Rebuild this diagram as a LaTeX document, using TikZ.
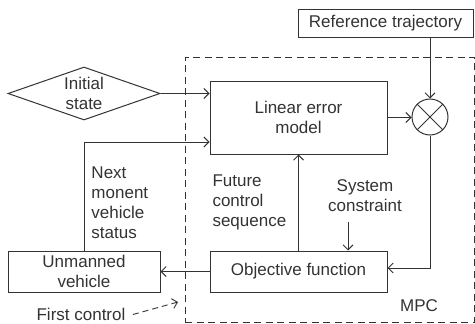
\documentclass[tikz,border=0pt]{standalone}
\usepackage{fontspec}
\setmainfont{Liberation Sans}
\usetikzlibrary{arrows.meta,shapes.geometric}
\begin{document}
\begin{tikzpicture}[x=1pt,y=-1pt,
  line width=1pt,
  every node/.style={font=\fontsize{17}{20}\selectfont, text=black!80},
  blk/.style={draw=black!80, rectangle, inner sep=0pt, align=center},
  lbl/.style={inner sep=0pt, align=left, anchor=west},
  arr/.style={draw=black!80, -{Straight Barb[length=5pt,width=10pt]}},
  frame/.style={draw=black!80, dash pattern=on 7pt off 4.5pt, line width=0.9pt, inner sep=0pt}
]
\useasboundingbox (0,0) rectangle (475,324);

% MPC controller frame
\node[frame, minimum width=289pt, minimum height=265pt] (mpc) at (329.5,189.5) {};
\node[inner sep=0pt] (mpclbl) at (419,306) {MPC};

% blocks
\node[blk, minimum width=177pt, minimum height=73pt] (lin) at (298.5,117.5) {Linear error\\model};
\node[blk, minimum width=177pt, minimum height=41pt] (obj) at (298.5,271.5) {Objective function};
\node[blk, minimum width=152pt, minimum height=41pt] (veh) at (84,271.5) {Unmanned\\vehicle};
\node[blk, minimum width=175pt, minimum height=28pt] (ref) at (385.5,23) {Reference trajectory};
\node[draw=black!80, diamond, shape aspect=2.87, minimum width=152pt, minimum height=53pt,
      inner sep=0pt, align=center] (init) at (84,93.5) {Initial\\state};
\node[draw=black!80, circle, minimum size=36pt, inner sep=0pt] (sum) at (430,117) {};
\draw[black!80] (sum.45) -- (sum.225) (sum.135) -- (sum.315);

% labels
\node[lbl] (fcs) at (212,202) {Future\\control\\sequence};
\node[lbl] (nmvs) at (91,202.5) {Next\\monent\\vehicle\\status};
\node[inner sep=0pt, align=center] (sc) at (365,196) {System\\constraint};
\node[inner sep=0pt] (fct) at (81,314.5) {First control};

\coordinate (scp) at (348,222);
\coordinate (fcp) at (178,302);

% connectors
\draw[arr] (init.east) -- (init.east -| lin.west);
\draw[arr] (veh.north) |- ([yshift=-24.5pt]lin.west);
\draw[arr] (lin.east) -- (lin.east -| sum.west);
\draw[arr] (ref.south -| sum.north) -- (sum.north);
\draw[arr] (sum.south) |- ([yshift=3.5pt]obj.east);
\draw[arr] (obj.north) -- (lin.south);
\draw[arr] (scp) -- (scp |- obj.north);
\draw[arr] (obj.west) -- (veh.east);
\draw[arr, dash pattern=on 6pt off 4pt, line width=0.9pt] ([xshift=7pt]fct.east) -- (fcp);
\end{tikzpicture}
\end{document}
